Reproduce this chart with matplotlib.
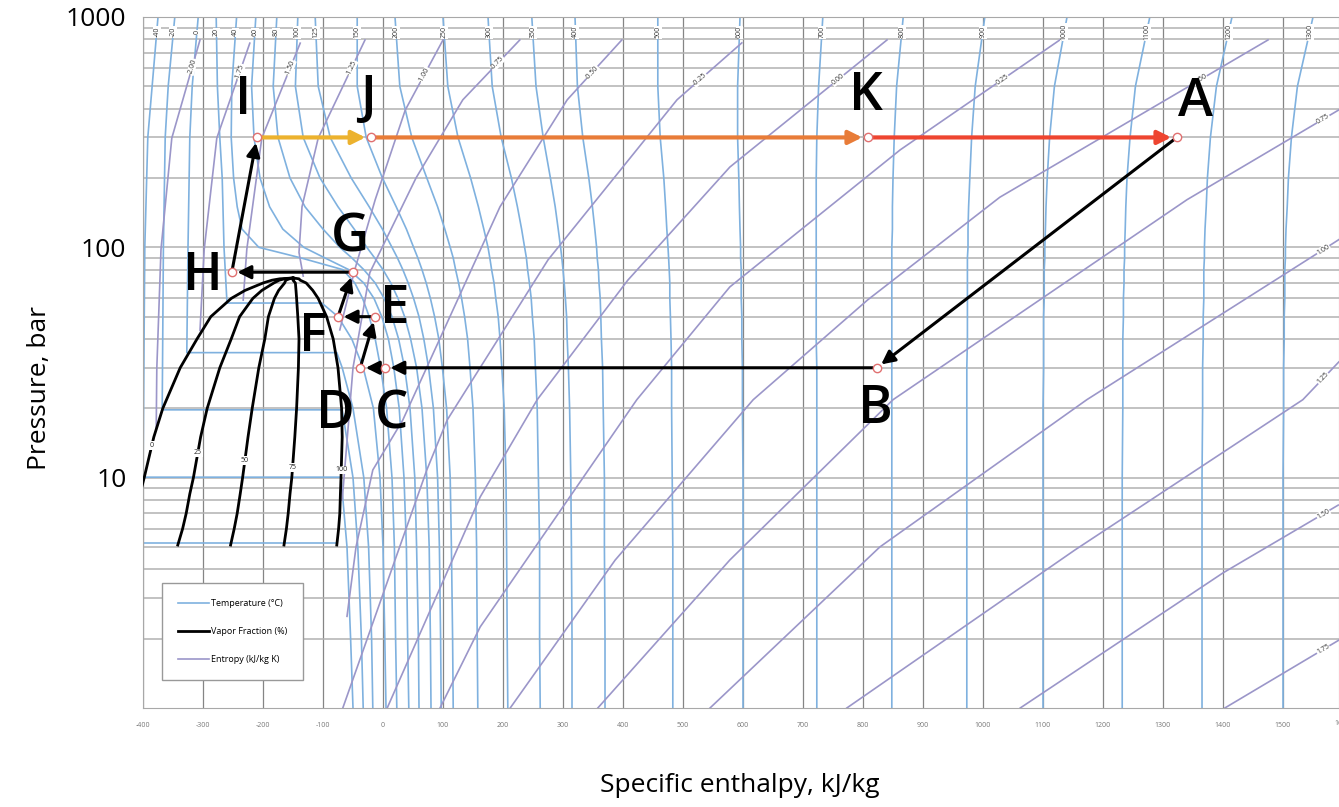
import numpy as np
import matplotlib as mpl
mpl.use('Agg')
import matplotlib.pyplot as plt
from matplotlib.lines import Line2D

plt.rcParams['font.family'] = ['Open Sans', 'DejaVu Sans']

# ---------------- isotherms above the dome (h in kJ/kg at p_levels) ----------------
p_levels = [1000, 500, 300, 200, 150, 120, 100, 90, 80, 70, 60, 50, 40, 30, 20, 10, 5, 2, 1]
iso_temps = [40, 60, 80, 100, 125, 150, 200, 250, 300, 350, 400, 500, 600,
             700, 800, 900, 1000, 1100, 1200, 1300]
iso_h = [
    [-244, -252, -253, -249, -243, -235, -207, -137, -67, -47, -34, -23, -13, -4, 6, 15, 19, 21, 23],
    [-212, -219, -215, -205, -189, -167, -132, -97, -57, -32, -15, -2, 9, 18, 27, 35, 39, 41, 43],
    [-177, -183, -175, -155, -130, -100, -72, -52, -32, -13, 2, 15, 26, 36, 45, 53, 56, 59, 60],
    [-142, -146, -133, -105, -75, -48, -27, -14, 0, 13, 25, 36, 46, 56, 65, 73, 77, 79, 80],
    [-113, -108, -88, -53, -23, -1, 15, 24, 33, 42, 51, 60, 68, 76, 84, 91, 94, 96, 97],
    [-43, -43, -28, -1, 22, 39, 51, 58, 65, 72, 79, 86, 93, 99, 106, 112, 114, 116, 117],
    [20, 28, 48, 73, 91, 103, 112, 117, 121, 126, 131, 136, 141, 145, 150, 154, 156, 157, 158],
    [100, 108, 125, 146, 159, 168, 175, 178, 181, 185, 188, 192, 195, 198, 202, 205, 206, 207, 208],
    [175, 182, 197, 214, 224, 231, 236, 239, 241, 244, 247, 249, 252, 254, 257, 259, 261, 261, 262],
    [248, 255, 267, 279, 287, 292, 296, 298, 300, 302, 304, 306, 307, 309, 311, 313, 314, 315, 315],
    [320, 324, 333, 343, 349, 353, 356, 357, 359, 360, 362, 363, 364, 366, 367, 369, 369, 370, 370],
    [458, 458, 462, 468, 471, 473, 475, 476, 477, 478, 478, 479, 480, 481, 481, 482, 483, 483, 483],
    [595, 591, 591, 593, 594, 595, 596, 596, 597, 597, 597, 598, 598, 599, 599, 600, 600, 600, 600],
    [733, 726, 723, 722, 722, 722, 722, 722, 722, 722, 722, 722, 722, 723, 723, 723, 723, 723, 723],
    [867, 856, 852, 850, 849, 849, 848, 848, 848, 848, 848, 848, 848, 848, 848, 848, 848, 848, 848],
    [1003, 987, 981, 978, 976, 975, 975, 974, 974, 974, 974, 974, 974, 973, 973, 973, 973, 973, 973],
    [1140, 1119, 1111, 1107, 1105, 1104, 1103, 1103, 1102, 1102, 1102, 1101, 1101, 1101, 1100, 1100, 1100, 1100, 1100],
    [1278, 1254, 1245, 1240, 1238, 1237, 1236, 1236, 1235, 1235, 1234, 1234, 1233, 1233, 1233, 1232, 1232, 1232, 1232],
    [1415, 1389, 1379, 1374, 1372, 1370, 1369, 1369, 1368, 1368, 1368, 1367, 1367, 1366, 1366, 1365, 1365, 1365, 1365],
    [1550, 1524, 1514, 1509, 1507, 1505, 1504, 1504, 1503, 1503, 1503, 1502, 1502, 1501, 1501, 1500, 1500, 1500, 1500],
]

# ---------------- isotherms crossing the dome (liquid, flat, vapour) ----------------
sub_temps = [-40, -20, 0, 20]
sub_h = [
    [-375, -392, -397, -400, -70, -60, -54, -50],
    [-347, -358, -363, -366, -368, -68, -50, -42, -36, -33],
    [-308, -318, -322, -325, -327, -77, -68, -50, -32, -24, -19, -17],
    [-278, -276, -272, -268, -265, -260, -102, -75, -52, -33, -16, -5, 0, 3, 5],
]
sub_p = [
    [1000, 300, 100, 10.05, 10.05, 5, 2, 1],
    [1000, 500, 300, 100, 19.7, 19.7, 10, 5, 2, 1],
    [1000, 500, 300, 100, 34.9, 34.9, 30, 20, 10, 5, 2, 1],
    [1000, 500, 300, 200, 100, 57.3, 57.3, 50, 40, 30, 20, 10, 5, 2, 1],
]
triple_h = [-430, -77]
triple_p = [5.18, 5.18]

# ---------------- vapour fraction lines ----------------
dome_p = [73.6, 73, 72, 70, 65, 60, 50, 40, 30, 20, 15, 10, 8.5, 7, 6, 5.1]
quality = [0, 25, 50, 75, 100]
quality_h = [
    [-150, -172, -185, -200, -230, -253, -287, -310, -338, -367, -382, -398, -405, -414, -421, -430],
    [-150, -164, -173, -182, -202, -217, -239, -253, -272, -293, -304, -316, -322, -328, -334, -342],
    [-150, -156, -162, -164, -174, -181, -191, -197, -207, -218, -225, -234, -238, -243, -248, -254],
    [-150, -148, -150, -146, -145, -144, -142, -140, -141, -144, -147, -152, -155, -158, -161, -165],
    [-150, -140, -138, -128, -117, -108, -94, -83, -75, -69, -68, -70, -71, -72, -74, -77],
]
quality_label_p = [13.8, 12.8, 11.9, 11.1, 10.8]

# ---------------- isentropes (kJ/kg K) ----------------
ent_vals = ['-2.00', '-1.75', '-1.50', '-1.25', '-1.00', '-0.75', '-0.50', '-0.25',
            '0.00', '0.25', '0.50', '0.75', '1.00', '1.25', '1.50', '1.75']
ent_h = [
    [-305, -352, -370, -377, -378],
    [-222, -277, -298, -305],
    [-138, -202, -227, -233],
    [-30, -108, -135, -140, -133],
    [100, 37, -13, -47, -72],
    [228, 133, 55, -22, -50, -68],
    [398, 307, 195, 33, -17, -45, -60],
    [598, 490, 275, 107, 73, -67],
    [840, 578, 408, 257, 162, 7],
    [1128, 862, 578, 423, 162, 95],
    [1475, 1028, 808, 617, 387, 212],
    [1593, 1340, 850, 578, 358],
    [1593, 1567, 1173, 828, 545],
    [1593, 1533, 1153, 773],
    [1592, 1400, 1062],
    [1593, 1403],
]
ent_p = [
    [795, 298, 98, 29.8, 16.1],
    [770, 298, 98, 43.6],
    [770, 298, 98, 59],
    [795, 298, 150, 95, 75],
    [795, 394, 161, 80, 43.8],
    [795, 437, 200, 77.6, 30, 8],
    [795, 437, 150, 17.8, 10.8, 5, 2.5],
    [772, 437, 88.2, 17.8, 10.8, 1],
    [795, 223, 72, 21.8, 8.25, 1],
    [795, 265, 67.3, 21.8, 2.25, 1],
    [795, 165, 59.2, 21.8, 4.39, 1],
    [395, 161, 21.8, 4.39, 1],
    [108, 97.7, 21.8, 5.0, 1],
    [31.8, 21.8, 4.85, 1],
    [7.6, 3.86, 1],
    [1.97, 1],
]
# label spots: pressure for labels along the top, enthalpy for labels on the right edge
ent_label_p = [607, 578, 600, 600, 560, 630, 573, 535, 535, 535, 535, None, None, None, None, None]
ent_label_h = [None] * 11 + [1567, 1567, 1567, 1567, 1567]

# ---------------- cycle ----------------
pt_names = ['A', 'B', 'C', 'D', 'E', 'F', 'G', 'H', 'I', 'J', 'K']
pt_h = [1323, 823, 3, -38, -13, -75, -50, -252, -210, -20, 808]
pt_p = [300, 30, 30, 30, 50, 50, 78, 78, 300, 300, 300]
path = ['A', 'B', 'C', 'D', 'E', 'F', 'G', 'H', 'I', 'J', 'K', 'A']

# ------------------------------------------------------------------
BLUE = '#7fb1df'
PURPLE = '#9b96c9'
fig = plt.figure(figsize=(13.39, 8.07), dpi=100)
ax = fig.add_axes([143 / 1339, 1 - 708 / 807, 1 - 143 / 1339, 691 / 807])
ax.set_yscale('log')
ax.set_xlim(-400, 1593.3)
ax.set_ylim(1, 1000)

ax.set_xticks(np.arange(-400, 1600, 100))
ax.set_xticklabels([str(v) for v in range(-400, 1600, 100)], fontsize=5, color='#777777')
ax.text(1600, 0.86, '1600', fontsize=5, color='#777777', ha='center', va='center', clip_on=False)
ax.set_yticks([10, 100, 1000])
ax.set_yticklabels(['10', '100', '1000'], fontsize=19)
ax.tick_params(axis='both', which='both', length=0)
ax.tick_params(axis='x', pad=10)
ax.tick_params(axis='y', pad=12)
ax.grid(True, which='major', axis='x', color='#858585', lw=0.9, zorder=0)
ax.grid(True, which='both', axis='y', color='#b2b2b2', lw=1.1, zorder=0)
for sp in ax.spines.values():
    sp.set_color('#a8a8a8')
    sp.set_linewidth(0.8)
ax.set_axisbelow(True)

fig.text(740 / 1339, 1 - 785 / 807, 'Specific enthalpy, kJ/kg', fontsize=19,
         ha='center', va='center')
fig.text(40 / 1339, 1 - 388 / 807, 'Pressure, bar', fontsize=19, rotation=90,
         ha='center', va='center')


def at_pressure(h, p, target):
    lp = np.log10(p)
    order = np.argsort(lp)
    return np.interp(np.log10(target), lp[order], np.asarray(h, float)[order])


def at_enthalpy(h, p, target):
    h = np.asarray(h, float)
    order = np.argsort(h)
    return 10 ** np.interp(target, h[order], np.log10(p)[order])


def line_angle(h, p, x, y):
    pts = ax.transData.transform(np.column_stack([h, p]))
    c = ax.transData.transform((x, y))
    d = np.hypot(pts[:, 0] - c[0], pts[:, 1] - c[1])
    i = int(np.argmin(d[:-1] + d[1:]))
    dx, dy = pts[i + 1] - pts[i]
    ang = np.degrees(np.arctan2(dy, dx))
    if ang > 90:
        ang -= 180
    if ang < -90:
        ang += 180
    return ang


tlabel_style = dict(fontsize=5, color='#333333', ha='center', va='center', rotation=90,
                    bbox=dict(facecolor='white', edgecolor='none', pad=0.3), zorder=4)

# isotherms
for t, hs in zip(iso_temps, iso_h):
    ax.plot(hs, p_levels, color=BLUE, lw=1.2, zorder=2)
    ax.text(at_pressure(hs, np.array(p_levels, float), 860), 860, str(t), **tlabel_style)
for t, hs, ps in zip(sub_temps, sub_h, sub_p):
    ax.plot(hs, ps, color=BLUE, lw=1.2, zorder=2)
    ax.text(at_pressure(hs[:3], np.array(ps[:3], float), 860), 860, str(t), **tlabel_style)
ax.plot(triple_h, triple_p, color=BLUE, lw=1.2, zorder=2)

# isentropes
for name, hs, ps, lp, lh in zip(ent_vals, ent_h, ent_p, ent_label_p, ent_label_h):
    ps = np.array(ps, float)
    ax.plot(hs, ps, color=PURPLE, lw=1.2, zorder=2)
    if lp is not None:
        x, y = at_pressure(hs, ps, lp), lp
    else:
        x, y = lh, at_enthalpy(hs, ps, lh)
    ax.text(x, y, name, fontsize=5, color='#333333', ha='center', va='center',
            rotation=line_angle(hs, ps, x, y), rotation_mode='anchor',
            bbox=dict(facecolor='white', edgecolor='none', pad=0.2), zorder=4)

# vapour fraction
for q, hs, lp in zip(quality, quality_h, quality_label_p):
    ax.plot(hs, dome_p, color='black', lw=2.0, zorder=3, solid_joinstyle='round')
    ax.text(at_pressure(hs, np.array(dome_p, float), lp), lp, str(q), fontsize=5,
            ha='center', va='center', color='#222222',
            bbox=dict(facecolor='white', edgecolor='none', pad=0.6), zorder=4)

# legend
handles = [Line2D([], [], color=BLUE, lw=1.2),
           Line2D([], [], color='black', lw=2.0),
           Line2D([], [], color=PURPLE, lw=1.2)]
leg = ax.legend(handles, ['Temperature (\u00b0C)', 'Vapor Fraction (%)', 'Entropy (kJ/kg K)'],
                loc='lower left', bbox_to_anchor=(0.016, 0.04), fontsize=6.5,
                labelspacing=2.1, borderpad=1.8, handlelength=3.4, handletextpad=0.2,
                borderaxespad=0, fancybox=False, framealpha=1, edgecolor='#999999')
leg.set_zorder(5)

# cycle arrows
pos = {n: (h, p) for n, h, p in zip(pt_names, pt_h, pt_p)}
seg_colors = {('I', 'J'): '#ecb22e', ('J', 'K'): '#e87c38', ('K', 'A'): '#ee4530'}
for a, b in zip(path[:-1], path[1:]):
    col = seg_colors.get((a, b), 'black')
    lw = 3.0 if col != 'black' else 2.2
    ax.annotate('', xy=pos[b], xytext=pos[a],
                arrowprops=dict(arrowstyle='-|>', color=col, lw=lw, mutation_scale=20,
                                shrinkA=3, shrinkB=4), zorder=6)
ax.plot(pt_h, pt_p, 'o', ms=6, mfc='white', mec='#e07070', mew=1.0, zorder=7, ls='none')

letter_off = {'A': (19, 35), 'B': (-1, -42), 'C': (7, -47), 'D': (-25, -47),
              'E': (20, 7), 'F': (-25, -21), 'G': (-3, 34), 'H': (-29, -4),
              'I': (-14, 37), 'J': (-3, 38), 'K': (-2, 41)}
for n in pt_names:
    ax.annotate(n, xy=pos[n], xytext=letter_off[n], textcoords='offset pixels',
                fontsize=38, fontweight='semibold', ha='center', va='center', zorder=8)

fig.savefig('out.png', dpi=100)
